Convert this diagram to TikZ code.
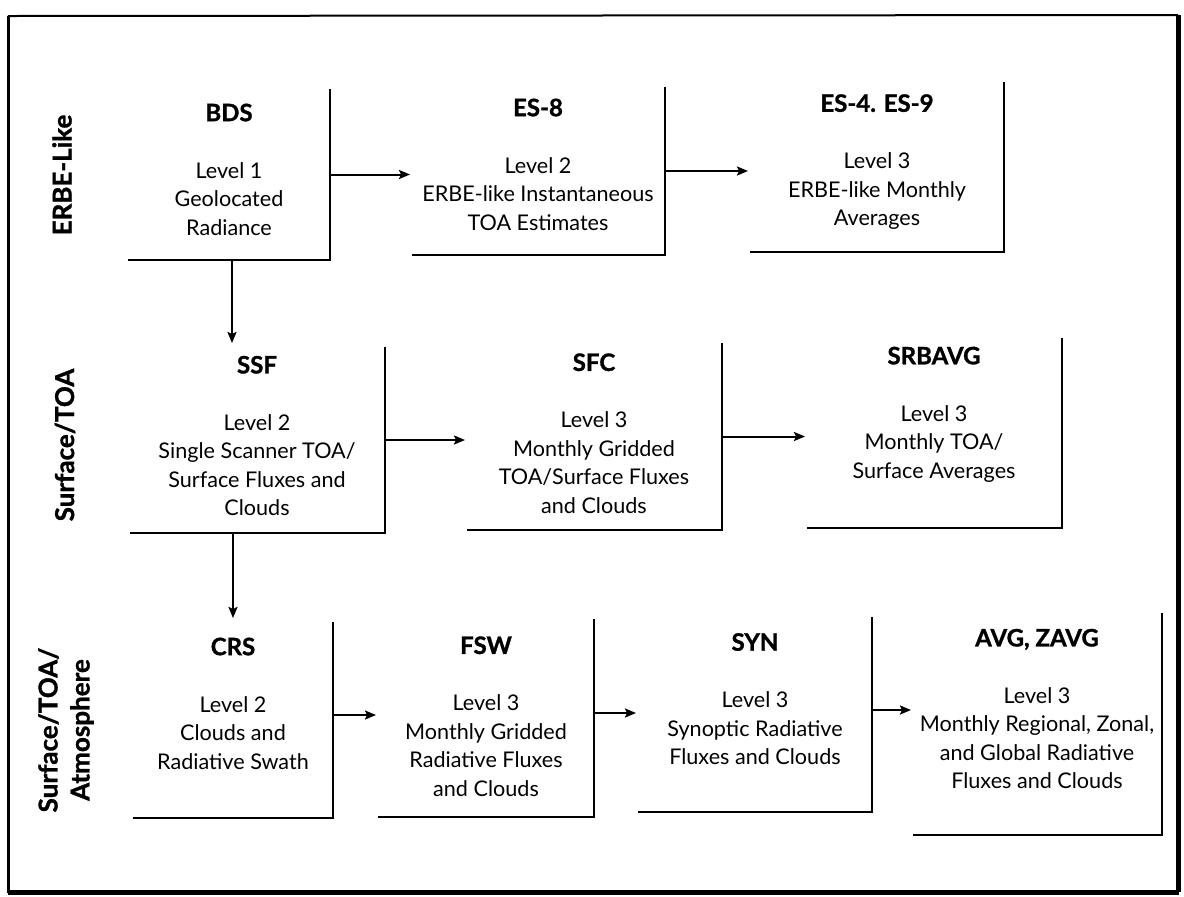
\documentclass[tikz,border=0pt]{standalone}
\usepackage{fontspec}
\setmainfont{Lato}
\newfontfamily\heavyfont[FakeBold=1.2]{Lato}
\usetikzlibrary{arrows.meta,fit,calc}
\newcommand\dtitle[1]{{\fontsize{12}{14.25}\selectfont\heavyfont\bfseries #1}}
\begin{document}
\begin{tikzpicture}[x=0.5pt,y=-0.5pt,
  dataset/.style={inner sep=0pt, outer sep=0pt},
  txt/.style={align=center, inner sep=0pt, font=\fontsize{10.8}{14.25}\selectfont},
  rim/.style={line width=1pt},
  flow/.style={line width=1pt, shorten >=1pt, -{Stealth[length=5.5pt,width=4.5pt,inset=1pt]}},
  band/.style={rotate=90, align=center, inner sep=0pt, font=\fontsize{13}{16}\selectfont\heavyfont\bfseries},
]
\fill[white] (0,0) rectangle (1184,896);
\useasboundingbox (0,0) rectangle (1184,896);

% outer frame
\draw[line width=1.5pt] (8,16) -- (8,893);
\draw[line width=1pt] (8,16) -- (1178,15);
\draw[line width=2.5pt] (1178,15) -- (1178,892);
\draw[line width=2.5pt] (8,892) -- (1179,892);

% row labels
\node[band] (lab1) at (62,175) {ERBE-Like};
\node[band] (lab2) at (65,445) {Surface/TOA};
\node[band] (lab3) at (66,730) {Surface/TOA/\\Atmosphere};

% product boxes
\node[dataset, fit={(128,89)(330,260)}]  (bds) {};
\node[dataset, fit={(412,87)(665,255)}]  (es8) {};
\node[dataset, fit={(750,82)(1004,252)}] (es4) {};
\node[dataset, fit={(130,347)(385,533)}] (ssf) {};
\node[dataset, fit={(467,343)(722,530)}] (sfc) {};
\node[dataset, fit={(807,338)(1062,528)}] (srb) {};
\node[dataset, fit={(133,622)(333,818)}] (crs) {};
\node[dataset, fit={(378,619)(594,817)}] (fsw) {};
\node[dataset, fit={(638,617)(872,812)}] (syn) {};
\node[dataset, fit={(913,613)(1162,835)}] (avg) {};

\foreach \b in {bds,es8,es4,ssf,sfc,srb,crs,fsw,syn,avg}
  \draw[rim] (\b.north east) -- (\b.south east) -- (\b.south west);

% box texts
\node[txt] (bds-t) at (229,169.5) {\dtitle{BDS}\\[14.25pt]Level 1\\Geolocated\\Radiance};
\node[txt] (es8-t) at (538,164.5) {\dtitle{ES-8}\\[14.25pt]Level 2\\ERBE-like Instantaneous\\TOA Estimates};
\node[txt] (es4-t) at (877,162) {\dtitle{ES-4. ES-9}\\[14.25pt]Level 3\\ERBE-like Monthly\\Averages};
\node[txt] (ssf-t) at (257,436) {\dtitle{SSF}\\[14.25pt]Level 2\\Single Scanner TOA/\\Surface Fluxes and\\Clouds};
\node[txt] (sfc-t) at (594,433.5) {\dtitle{SFC}\\[14.25pt]Level 3\\Monthly Gridded\\TOA/Surface Fluxes\\and Clouds};
\node[txt] (srb-t) at (934,414.5) {\dtitle{SRBAVG}\\[14.25pt]Level 3\\Monthly TOA/\\Surface Averages};
\node[txt] (crs-t) at (233,703.5) {\dtitle{CRS}\\[14.25pt]Level 2\\Clouds and\\Radiative Swath};
\node[txt] (fsw-t) at (486,716.5) {\dtitle{FSW}\\[14.25pt]Level 3\\Monthly Gridded\\Radiative Fluxes\\and Clouds};
\node[txt] (syn-t) at (755,699) {\dtitle{SYN}\\[14.25pt]Level 3\\Synoptic Radiative\\Fluxes and Clouds};
\node[txt] (avg-t) at (1037,709) {\dtitle{AVG, ZAVG}\\[14.25pt]Level 3\\Monthly Regional, Zonal,\\and Global Radiative\\Fluxes and Clouds};

% data flow
\draw[flow] (bds.east) -- (bds.east -| es8.west);
\draw[flow] (es8.east) -- (es8.east -| es4.west);
\draw[flow] (ssf.east) -- (ssf.east -| sfc.west);
\draw[flow] (sfc.east) -- (sfc.east -| srb.west);
\draw[flow] ([yshift=2.5pt]crs.east) -- ([yshift=2.5pt]crs.east -| fsw.west);
\draw[flow] ([yshift=2.5pt]fsw.east) -- ([yshift=2.5pt]fsw.east -| syn.west);
\draw[flow] ([yshift=2.25pt]syn.east) -- ([yshift=2.25pt]syn.east -| avg.west);
\draw[flow, shorten >=2pt] ([xshift=1.5pt]bds.south) -- ([xshift=1.5pt]bds.south |- ssf.north);
\draw[flow, shorten >=2pt] (ssf.south -| crs.north) -- (crs.north);
\end{tikzpicture}
\end{document}
